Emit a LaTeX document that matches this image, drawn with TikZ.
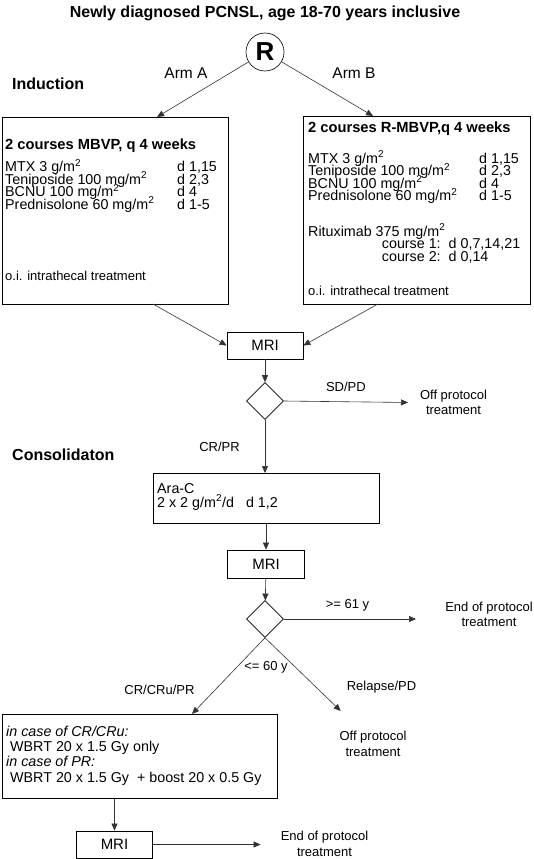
\documentclass[tikz,border=0pt]{standalone}
\usepackage{fontspec}
\setmainfont{Liberation Sans}
\usetikzlibrary{arrows.meta,shapes.geometric}
\newcommand\msq{m\textsuperscript{2}}
\tikzset{
	box/.style={draw=black, line width=0.7pt, inner sep=0pt},
	conn/.style={->, line width=0.6pt, draw=black!80},
	txt/.style={anchor=base west, inner sep=0pt, text height=9.5pt, text depth=2.5pt, font=\fontsize{14.3}{14}\selectfont},
	boxhead/.style={anchor=base west, inner sep=0pt, font=\bfseries\fontsize{14.7}{17}\selectfont},
	phase/.style={anchor=west, inner sep=0pt, font=\bfseries\fontsize{16}{19}\selectfont},
	lbl/.style={inner sep=0pt, align=center, font=\fontsize{13}{15.5}\selectfont},
	decision/.style={diamond, draw, line width=0.6pt, minimum width=37, minimum height=37, inner sep=0pt}
}
\begin{document}
\begin{tikzpicture}[x=1pt,y=-1pt,>={Triangle[length=7pt,width=6pt]}]
	\useasboundingbox (0,0) rectangle (534,859);

	% Title and randomisation
	\node[anchor=base, inner sep=0pt, font=\bfseries\fontsize{16}{19}\selectfont] (title) at (265,17.7) {Newly diagnosed PCNSL, age 18-70 years inclusive};
	\node[draw, circle, line width=0.6pt, minimum size=38, inner sep=0pt, font=\bfseries\fontsize{26}{30}\selectfont] (rand) at (265,52) {R};
	\node[lbl, font=\fontsize{15.5}{18}\selectfont] (arma) at (186,73) {Arm A};
	\node[lbl, font=\fontsize{15.5}{18}\selectfont] (armb) at (354,73) {Arm B};
	\node[phase] (induct) at (12,84) {Induction};

	% Induction boxes
	\node[box, anchor=north west, minimum width=226, minimum height=187] (boxa) at (2,117) {};
	\node[box, anchor=north west, minimum width=227, minimum height=188] (boxb) at (303,116) {};
	\coordinate (atip) at (157,117);
	\coordinate (btip) at (373,116);
	\draw[conn] (rand) -- (atip);
	\draw[conn] (rand) -- (btip);

	\node[boxhead] (heada) at (5,149) {2 courses MBVP, q 4 weeks};
	\node[boxhead] (headb) at (308,132) {2 courses R-MBVP,q 4 weeks};
	\foreach \bx/\ox/\dx/\oy in {a/5/177/171.5, b/308/479/163}{
		\foreach \drug/\days [count=\i] in {{MTX 3 g/\msq}/{d 1,15}, {Teniposide 100 mg/\msq}/{d 2,3}, {BCNU 100 mg/\msq}/{d 4}, {Prednisolone 60 mg/\msq}/{d 1-5}}{
			\node[txt] (\bx drug\i) at (\ox,\oy+12.5*\i-12.5) {\drug};
			\node[txt] (\bx day\i) at (\dx,\oy+12.5*\i-12.5) {\days};
		}
	}
	\node[txt] (ritux) at (308,236) {Rituximab 375 mg/\msq};
	\node[txt] (course1) at (381.7,248.5) {course 1:\ \ d 0,7,14,21};
	\node[txt] (course2) at (381.7,261) {course 2:\ \ d 0,14};
	\node[txt, font=\fontsize{13}{15}\selectfont] (ita) at (5,280) {o.i. intrathecal treatment};
	\node[txt, font=\fontsize{13}{15}\selectfont] (itb) at (308,295) {o.i. intrathecal treatment};

	% First response evaluation
	\node[box, minimum width=76, minimum height=27, font=\fontsize{15}{18}\selectfont] (mri1) at (265,345.5) {MRI};
	\coordinate (aout) at (153,304);
	\coordinate (bout) at (378,304);
	\draw[conn] (aout) -- (mri1.west);
	\draw[conn] (bout) -- (mri1.east);
	\node[decision] (dec1) at (265,401) {};
	\draw[conn] (mri1) -- (dec1);
	\node[lbl] (off1) at (453.5,402.5) {Off protocol\\treatment};
	\draw[conn] (dec1.east) -- (off1.west -| 408,0) node[lbl, midway, above=10pt] (sdpd) {SD/PD};

	% Consolidation
	\node[phase] (consol) at (12,455) {Consolidaton};
	\node[box, anchor=north west, minimum width=226, minimum height=50] (arac) at (153,473) {};
	\draw[conn] (dec1.south) -- (dec1.south |- arac.north) node[lbl, pos=0.5, left=25pt] (crpr) {CR/PR};
	\node[txt] (arac1) at (157,493) {Ara-C};
	\node[txt] (arac2) at (157,507) {2 x 2 g/\msq/d\hspace{12pt}d 1,2};

	\node[box, minimum width=77, minimum height=28, font=\fontsize{15}{18}\selectfont] (mri2) at (266,564) {MRI};
	\draw[conn] (arac.south -| mri2) -- (mri2);
	\node[decision] (dec2) at (265,619) {};
	\draw[conn] (mri2) -- (dec2);
	\node[lbl] (end1) at (489,614.5) {End of protocol\\treatment};
	\coordinate (endtip) at (416,619);
	\draw[conn] (dec2.east) -- (endtip);
	\node[lbl] (old) at (347.5,605) {>= 61 y};

	% Radiotherapy
	\node[box, anchor=north west, minimum width=275, minimum height=84] (wbrt) at (2,714) {};
	\coordinate (wtip) at (192,714);
	\coordinate (offtip) at (340.7,711);
	\draw[conn] (dec2.south) -- (wtip);
	\draw[conn] (dec2.south) -- (offtip);
	\node[lbl] (young) at (266,667) {<= 60 y};
	\node[lbl] (crcru) at (159.4,690) {CR/CRu/PR};
	\node[lbl] (relapse) at (381.5,687) {Relapse/PD};
	\node[lbl] (off2) at (373,744) {Off protocol\\treatment};

	\node[txt, font=\itshape\fontsize{14.3}{14}\selectfont] (casecr) at (6,736) {in case of CR/CRu:};
	\node[txt] (wbrt1) at (10,751) {WBRT 20 x 1.5 Gy only};
	\node[txt, font=\itshape\fontsize{14.3}{14}\selectfont] (casepr) at (6,766.5) {in case of PR:};
	\node[txt] (wbrt2) at (10,782) {WBRT 20 x 1.5 Gy\ \ + boost 20 x 0.5 Gy};

	\node[box, minimum width=76, minimum height=27, font=\fontsize{15}{18}\selectfont] (mri3) at (114.5,844.5) {MRI};
	\draw[conn] (mri3.north |- wbrt.south) -- (mri3.north);
	\node[lbl] (end2) at (324.5,844) {End of protocol\\treatment};
	\coordinate (endtip2) at (260.6,844.5);
	\draw[conn] (mri3.east) -- (endtip2);
\end{tikzpicture}
\end{document}
